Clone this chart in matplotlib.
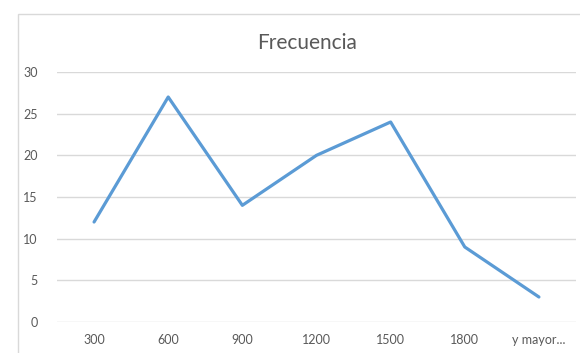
import matplotlib.pyplot as plt
from matplotlib.patches import Rectangle

categories = ['300', '600', '900', '1200', '1500', '1800', 'y mayor...']
frecuencia = [12, 27, 14, 20, 24, 9, 3]
y_ticks = [0, 5, 10, 15, 20, 25, 30]

plt.rcParams['font.family'] = ['Lato', 'DejaVu Sans']

fig = plt.figure(figsize=(5.8, 3.53), dpi=100)
W, H = 580, 353

# chart area border (runs off the right and bottom edges)
fig.patches.append(Rectangle((18 / W, -0.1), 1.0, 1 - 14 / H + 0.1,
                             transform=fig.transFigure, fill=False,
                             edgecolor='#D9D9D9', linewidth=1.0))

ax = fig.add_axes([57 / W, 1 - 322 / H, (576 - 57) / W, (322 - 72) / H])
x = range(len(categories))
ax.plot(x, frecuencia, color='#5B9BD5', linewidth=2.3,
        solid_capstyle='round', solid_joinstyle='round', zorder=3)

ax.set_xlim(-0.5, len(categories) - 0.5)
ax.set_ylim(0, 30)
ax.set_yticks(y_ticks)
ax.set_xticks(list(x))
ax.set_xticklabels(categories)
ax.grid(axis='y', color='#D9D9D9', linewidth=1.0)
ax.set_axisbelow(True)
for s in ax.spines.values():
    s.set_visible(False)
ax.tick_params(length=0, labelsize=9, colors='#595959')
ax.tick_params(axis='y', pad=14)
ax.tick_params(axis='x', pad=9)

fig.text(307 / W, 1 - 43 / H, 'Frecuencia', ha='center', va='center',
         fontsize=15, color='#595959')

fig.savefig('out.png', dpi=100, facecolor='white')
